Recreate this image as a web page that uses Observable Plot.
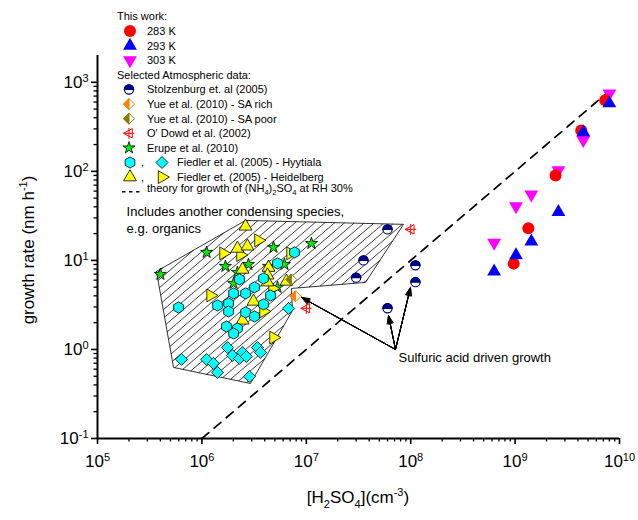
<!DOCTYPE html>
<html><head><meta charset="utf-8">
<script src="https://cdn.jsdelivr.net/npm/d3@7"></script>
<script src="https://cdn.jsdelivr.net/npm/@observablehq/plot@0.6"></script>
<style>
body{margin:0;background:#fff;}
#chart{position:relative;width:638px;height:520px;}
</style>
</head><body><div id="chart"></div>
<script>
const FONT = "'Liberation Sans', Arial, Helvetica, sans-serif";

// ---- tick values & labels ----
const xMajorTicks = [1e5, 1e6, 1e7, 1e8, 1e9, 1e10];
const xTickExp = ["5", "6", "7", "8", "9", "10"];
const yMajorTicks = [0.1, 1, 10, 100, 1000];
const yTickExp = ["-1", "0", "1", "2", "3"];
const minorMultipliers = [2, 3, 4, 5, 6, 7, 8, 9];

// ---- This work ----
const work283 = [[9.7e8, 9.2], [1.34e9, 22.9], [2.44e9, 90], [4.3e9, 288], [7.3e9, 630]];
const work293 = [[6.3e8, 7.5], [1.02e9, 11.4], [1.43e9, 16.3], [2.6e9, 35], [4.5e9, 275], [8e9, 580]];
const work303 = [[6.3e8, 15.8], [1.02e9, 40.5], [1.43e9, 55], [2.6e9, 103], [4.5e9, 225], [8e9, 750]];

// ---- Atmospheric data ----
const stolzenburg = [[6.0e7, 22.3], [3.53e7, 10], [3.0e7, 6.4], [1.11e8, 8.8], [1.11e8, 5.7], [6e7, 2.9]];
const yueRich = [[7.9e6, 3.95]];
const yuePoor = [[7.2e6, 6.1]];
const odowd = [[1e8, 22.3], [1e7, 2.9]];
const erupe = [[4.0e5, 6.97], [1.11e6, 12.3], [4.85e6, 14.0], [1.12e7, 15.5], [1.68e6, 8.57], [2.79e6, 9.0],
  [4.35e6, 8.57], [6.18e6, 9.0], [2.19e6, 7.33], [2.01e6, 5.52], [5.3e6, 4.98]];
const heidelbergUp = [[2.62e6, 24.1], [2.19e6, 13.6], [2.73e6, 14.4], [2.45e6, 7.9], [4.35e6, 8.3], [4.25e6, 6.8],
  [4.25e6, 5.7], [6.46e6, 5.8], [3.12e6, 3.46], [2.45e6, 2.12]];
const heidelbergRight = [[3.48e6, 16.8], [1.61e6, 12.0], [2.34e6, 11.5], [7.06e6, 12.0], [1.21e6, 4.04],
  [3.89e6, 2.67], [4.85e6, 1.36], [4.74e6, 4.84]];
const hyytialaHex = [[7.71e6, 12.3], [5.3e6, 9.25], [3.89e6, 6.28], [2.29e6, 6.12], [3.19e6, 4.98], [2.01e6, 4.26],
  [2.62e6, 4.26], [4.54e6, 4.04], [5.97e5, 2.96], [1.41e6, 3.12], [1.8e6, 3.29], [1.8e6, 2.67], [2.62e6, 2.61],
  [3.19e6, 2.35], [3.89e6, 3.21], [1.72e6, 1.81], [2.19e6, 1.72], [2.01e6, 1.51]];
const hyytialaDiamond = [[6.76e6, 2.89], [6.38e5, 0.773], [1.11e6, 0.773], [1.29e6, 0.697], [1.41e6, 0.552],
  [1.76e6, 1.05], [1.96e6, 0.857], [2.29e6, 0.793], [2.45e6, 0.925], [2.67e6, 0.834], [3.41e6, 1.05],
  [3.64e6, 0.925], [2.86e6, 0.497]];
const theoryLine = [[1e6, 0.1], [8e9, 800]];
const hatchRegion = [[3.67e5, 7.52], [2.62e6, 28.1], [8.53e7, 25.4], [3.69e7, 5.66], [7.21e6, 4.84],
  [7.38e6, 2.74], [2.92e6, 0.415], [5.35e5, 0.628], [3.67e5, 7.52]];
const arrowOrigin = [7.15e7, 1.0];
const arrowTargets = [[9.0e6, 3.84], [6.13e7, 2.41], [9.96e7, 4.98]];
const noteOrganics = {x: 1.9e5, y: 29.2, text: "Includes another condensing species,\ne.g. organics"};
const noteSulfuric = {x: 7.64e7, y: 0.81, text: "Sulfuric acid driven growth"};

const legendLabels = {
  title1: "This work:",
  w283: "283 K", w293: "293 K", w303: "303 K",
  title2: "Selected Atmospheric data:",
  stolz: "Stolzenburg et. al (2005)",
  rich: "Yue et al. (2010) - SA rich",
  poor: "Yue et al. (2010) - SA poor",
  odowd: "O' Dowd et al. (2002)",
  erupe: "Erupe et al. (2010)",
  hyy: "Fiedler et al. (2005) - Hyytiala",
  heid: "Fiedler et. (2005) - Heidelberg"
};

const pts = a => a.map(([x, y]) => ({x, y}));

// hatch lines (fill pattern of the region), parallel lines y/x = const, clipped to the polygon in log space
function hatchSegments(poly, step) {
  const P = poly.map(([x, y]) => [Math.log10(x), Math.log10(y)]);
  const cs = P.map(([a, b]) => b - a);
  const cMin = Math.min(...cs), cMax = Math.max(...cs);
  const segs = [];
  for (let c = cMin + step / 2; c < cMax; c += step) {
    const hits = [];
    for (let i = 0; i < P.length - 1; i++) {
      const [a1, b1] = P[i], [a2, b2] = P[i + 1];
      const f1 = b1 - a1 - c, f2 = b2 - a2 - c;
      if ((f1 < 0) !== (f2 < 0)) { const t = f1 / (f1 - f2); hits.push([a1 + t * (a2 - a1), b1 + t * (b2 - b1)]); }
    }
    hits.sort((u, v) => u[0] - v[0]);
    for (let k = 0; k + 1 < hits.length; k += 2)
      segs.push({x1: 10 ** hits[k][0], y1: 10 ** hits[k][1], x2: 10 ** hits[k + 1][0], y2: 10 ** hits[k + 1][1]});
  }
  return segs;
}

// ---- custom symbols ----
const mk = f => ({draw(c, size) { f(c, Math.sqrt(size / Math.PI)); }});
const triUp = mk((c, r) => { const s = 2.3 * r, h = s * Math.sqrt(3) / 2; c.moveTo(0, -2 * h / 3); c.lineTo(s / 2, h / 3); c.lineTo(-s / 2, h / 3); c.closePath(); });
const triDown = mk((c, r) => { const s = 2.3 * r, h = s * Math.sqrt(3) / 2; c.moveTo(0, 2 * h / 3); c.lineTo(s / 2, -h / 3); c.lineTo(-s / 2, -h / 3); c.closePath(); });
const triRight = mk((c, r) => { const s = 2.3 * r, h = s * Math.sqrt(3) / 2; c.moveTo(2 * h / 3, 0); c.lineTo(-h / 3, s / 2); c.lineTo(-h / 3, -s / 2); c.closePath(); });
const triLeftCross = mk((c, r) => { c.moveTo(-r, 0); c.lineTo(r * 0.6, -r * 0.85); c.lineTo(r * 0.6, r * 0.85); c.closePath();
  c.moveTo(-r, 0); c.lineTo(r, 0); c.moveTo(0, -r); c.lineTo(0, r); });
const halfTopCircle = mk((c, r) => { c.moveTo(-r, 0); c.arc(0, 0, r, Math.PI, 2 * Math.PI); c.closePath(); });
const diamondSq = mk((c, r) => { c.moveTo(0, -r); c.lineTo(r, 0); c.lineTo(0, r); c.lineTo(-r, 0); c.closePath(); });
const halfLeftDiamond = mk((c, r) => { c.moveTo(0, -r); c.lineTo(-r, 0); c.lineTo(0, r); c.closePath(); });
const hexSym = mk((c, r) => { for (let i = 0; i < 6; i++) { const a = Math.PI / 6 + i * Math.PI / 3; const px = r * Math.cos(a), py = r * Math.sin(a); i ? c.lineTo(px, py) : c.moveTo(px, py); } c.closePath(); });

const STY = {
  red: {symbol: "circle", r: 6, fill: "#ff0000", stroke: "none"},
  blue: {symbol: triUp, r: 6, fill: "#0000ff", stroke: "none"},
  mag: {symbol: triDown, r: 6, fill: "#ff00ff", stroke: "none"},
  stolzBase: {symbol: "circle", r: 4.6, fill: "white", stroke: "#000080", strokeWidth: 1.2},
  stolzTop: {symbol: halfTopCircle, r: 4.6, fill: "#000080", stroke: "#000080", strokeWidth: 1.2},
  richBase: {symbol: diamondSq, r: 5.5, fill: "white", stroke: "#ff8000", strokeWidth: 1},
  richHalf: {symbol: halfLeftDiamond, r: 5.5, fill: "#ff8000", stroke: "#ff8000", strokeWidth: 1},
  poorBase: {symbol: diamondSq, r: 5.5, fill: "white", stroke: "#808000", strokeWidth: 1},
  poorHalf: {symbol: halfLeftDiamond, r: 5.5, fill: "#808000", stroke: "#808000", strokeWidth: 1},
  odowd: {symbol: triLeftCross, r: 5.5, fill: "none", stroke: "#ff0000", strokeWidth: 1},
  erupe: {symbol: "star", r: 3.8, fill: "#00ee00", stroke: "black", strokeWidth: 0.8},
  hex: {symbol: hexSym, r: 5.6, fill: "#00ffff", stroke: "black", strokeWidth: 0.8},
  dia: {symbol: diamondSq, r: 6, fill: "#00ffff", stroke: "black", strokeWidth: 0.8},
  yUp: {symbol: triUp, r: 5.6, fill: "#ffff00", stroke: "black", strokeWidth: 0.8},
  yRight: {symbol: triRight, r: 5.6, fill: "#ffff00", stroke: "black", strokeWidth: 0.8}
};

const dots = (arr, s) => Plot.dot(pts(arr), {x: "x", y: "y", ...s});
const arrowData = arrowTargets.map(([x2, y2]) => ({x1: arrowOrigin[0], y1: arrowOrigin[1], x2, y2}));
const arrows = [42, 32, 22, 12, 4].map(a => Plot.arrow(arrowData,
  {x1: "x1", y1: "y1", x2: "x2", y2: "y2", stroke: "black", strokeWidth: 1, headLength: 13, headAngle: a}));

const xMinorTicks = xMajorTicks.slice(0, -1).flatMap(d => minorMultipliers.map(m => d * m));
const yMinorTicks = yMajorTicks.slice(0, -1).flatMap(d => minorMultipliers.map(m => d * m));

const plot = Plot.plot({
  width: 638, height: 520,
  marginLeft: 97, marginRight: 19, marginTop: 55, marginBottom: 82,
  style: {fontFamily: FONT, background: "white", color: "black"},
  x: {type: "log", domain: [1e5, 1e10], label: null},
  y: {type: "log", domain: [0.1, 2000], label: null},
  marks: [
    Plot.link(hatchSegments(hatchRegion, 0.095), {x1: "x1", y1: "y1", x2: "x2", y2: "y2", stroke: "black", strokeWidth: 0.75}),
    Plot.line(pts(hatchRegion), {x: "x", y: "y", stroke: "black", strokeWidth: 0.8}),
    Plot.line(pts(theoryLine), {x: "x", y: "y", stroke: "black", strokeWidth: 1.7, strokeDasharray: "9,7"}),
    ...arrows,
    Plot.text([noteOrganics], {x: "x", y: "y", text: "text", textAnchor: "start", fontSize: 13, lineHeight: 1.3, fill: "black"}),
    Plot.text([noteSulfuric], {x: "x", y: "y", text: "text", textAnchor: "start", fontSize: 13, fill: "black"}),
    dots(erupe, STY.erupe),
    dots(heidelbergRight, STY.yRight),
    dots(heidelbergUp, STY.yUp),
    dots(hyytialaHex, STY.hex),
    dots(hyytialaDiamond, STY.dia),
    dots(yuePoor, STY.poorBase), dots(yuePoor, STY.poorHalf),
    dots(yueRich, STY.richBase), dots(yueRich, STY.richHalf),
    dots(odowd, STY.odowd),
    dots(stolzenburg, STY.stolzBase), dots(stolzenburg, STY.stolzTop),
    dots(work303, STY.mag),
    dots(work283, STY.red),
    dots(work293, STY.blue),
    Plot.axisX(xMinorTicks, {tickSize: 3.5, tickFormat: () => "", strokeWidth: 1.3, label: null}),
    Plot.axisX(xMajorTicks, {tickSize: 6, tickPadding: 10, strokeWidth: 1.6, fontSize: 17, label: null,
      tickFormat: d => xTickExp[xMajorTicks.indexOf(d)]}),
    Plot.axisY(yMinorTicks, {tickSize: 3.5, tickFormat: () => "", strokeWidth: 1.3, label: null}),
    Plot.axisY(yMajorTicks, {tickSize: 6, tickPadding: 3, strokeWidth: 1.6, fontSize: 17, label: null,
      tickFormat: d => yTickExp[yMajorTicks.indexOf(d)]}),
    Plot.ruleX([1e5], {stroke: "black", strokeWidth: 2}),
    Plot.ruleY([0.1], {stroke: "black", strokeWidth: 2})
  ]
});

document.getElementById("chart").appendChild(plot);
const svg = d3.select(plot);

// superscript tick labels
svg.selectAll('g[aria-label="x-axis tick label"] text, g[aria-label="y-axis tick label"] text').each(function () {
  const t = d3.select(this); const e = t.text(); if (!e) return;
  t.text("10"); t.append("tspan").attr("dy", "-0.5em").attr("font-size", "11px").text(e);
});

function rich(sel, parts, base, small) {
  let off = 0;
  parts.forEach(([s, t]) => {
    const target = t === "sub" ? 0.3 * base : t === "sup" ? -0.42 * base : 0;
    sel.append("tspan").attr("dy", target - off).attr("font-size", t === "n" ? base : small).text(s);
    off = target;
  });
}

// axis titles
const xt = svg.append("text").attr("x", 358).attr("y", 503).attr("text-anchor", "middle").attr("font-family", FONT).attr("fill", "black");
rich(xt, [["[H", "n"], ["2", "sub"], ["SO", "n"], ["4", "sub"], ["](cm", "n"], ["-3", "sup"], [")", "n"]], 17, 11);
const yt = svg.append("text").attr("transform", "translate(34,250) rotate(-90)").attr("text-anchor", "middle").attr("font-family", FONT).attr("fill", "black");
rich(yt, [["growth rate (nm h", "n"], ["-1", "sup"], [")", "n"]], 17, 11);

// legend
const L = svg.append("g").attr("font-family", FONT).attr("font-size", 11).attr("fill", "black").attr("text-anchor", "start");
const rowY = i => 16.5 + 14.6 * i;
function sym(x, y, s) {
  const type = typeof s.symbol === "string" ? {circle: d3.symbolCircle, star: d3.symbolStar}[s.symbol] : s.symbol;
  L.append("path").attr("transform", `translate(${x},${y})`).attr("d", d3.symbol(type, Math.PI * s.r * s.r)())
    .attr("fill", s.fill).attr("stroke", s.stroke).attr("stroke-width", s.strokeWidth || 0);
}
function label(x, i, txt) { L.append("text").attr("x", x).attr("y", rowY(i)).attr("dy", "0.35em").text(txt); }
label(117, 0, legendLabels.title1);
sym(130, rowY(1), STY.red); label(147, 1, legendLabels.w283);
sym(130, rowY(2), STY.blue); label(147, 2, legendLabels.w293);
sym(130, rowY(3), STY.mag); label(147, 3, legendLabels.w303);
label(117, 4, legendLabels.title2);
sym(129, rowY(5), STY.stolzBase); sym(129, rowY(5), STY.stolzTop); label(147, 5, legendLabels.stolz);
sym(129, rowY(6), STY.richBase); sym(129, rowY(6), STY.richHalf); label(147, 6, legendLabels.rich);
sym(129, rowY(7), STY.poorBase); sym(129, rowY(7), STY.poorHalf); label(147, 7, legendLabels.poor);
sym(129, rowY(8), STY.odowd); label(147, 8, legendLabels.odowd);
sym(129, rowY(9), STY.erupe); label(147, 9, legendLabels.erupe);
sym(130, rowY(10), STY.hex); label(141, 10, ","); sym(162, rowY(10), STY.dia); label(177, 10, legendLabels.hyy);
sym(130, rowY(11), STY.yUp); label(141, 11, ","); sym(162, rowY(11), STY.yRight); label(177, 11, legendLabels.heid);
L.append("line").attr("x1", 122).attr("x2", 143).attr("y1", rowY(12)).attr("y2", rowY(12))
  .attr("stroke", "black").attr("stroke-width", 1.6).attr("stroke-dasharray", "3.5,3.5");
const th = L.append("text").attr("x", 147).attr("y", rowY(12)).attr("dy", "0.35em");
rich(th, [["theory for growth of (NH", "n"], ["4", "sub"], [")", "n"], ["2", "sub"], ["SO", "n"], ["4", "sub"], [" at RH 30%", "n"]], 11, 7.5);
</script></body></html>
